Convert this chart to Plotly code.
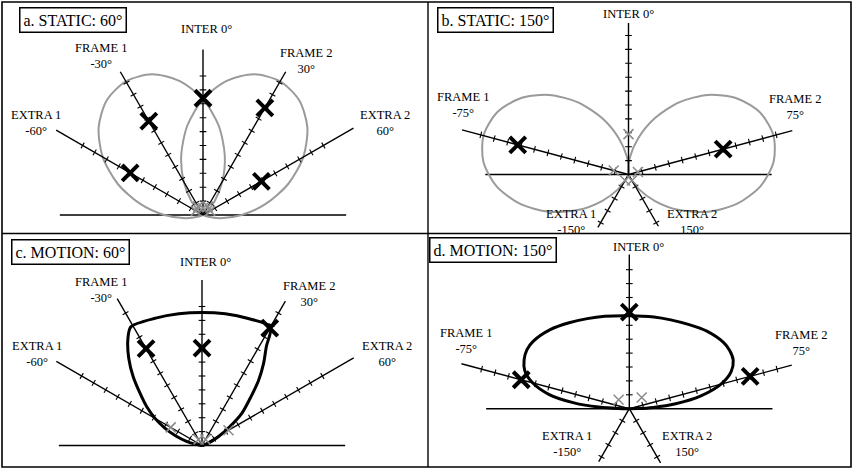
import math
import plotly.graph_objects as go

# ---------------- data ----------------
panel_titles = ["a. STATIC: 60°", "b. STATIC: 150°", "c. MOTION: 60°", "d. MOTION: 150°"]
axis_names = ["EXTRA 1", "FRAME 1", "INTER", "FRAME 2", "EXTRA 2"]

angles_60 = [-60, -30, 0, 30, 60]
angles_150 = [-150, -75, 0, 75, 150]
angle_text_60 = ["-60°", "-30°", "0°", "30°", "60°"]
angle_text_150 = ["-150°", "-75°", "0°", "75°", "150°"]

# axis lengths and tick counts (radial units)
axis_len_a = [12.2, 11.9, 11.9, 11.9, 12.5]
axis_len_b = [4.4, 12.4, 10.9, 12.2, 4.3]
axis_len_c = [12.1, 12.2, 11.9, 12.0, 12.6]
axis_len_d = [4.4, 12.5, 11.1, 12.1, 4.5]
tick_count_a = [10, 11, 10, 11, 10]
tick_count_b = [4, 11, 10, 11, 4]
tick_count_c = [10, 11, 10, 11, 10]
tick_count_d = [4, 11, 10, 11, 4]
baseline_extent = [-10.3, 10.3]

# black data crosses (radial units along each axis), None = no cross
cross_a = [6.05, 7.8, 8.4, 8.9, 4.85]
cross_b = [None, 8.25, None, 7.05, None]
cross_c = [None, 8.05, 7.0, 9.75, None]
cross_d = [None, 8.05, 6.95, 9.0, None]

# small grey crosses (angle, radius)
grey_a_ang = [-60, -30, 0, 30, 60]
grey_a_r = [0.6, 0.7, 0.5, 0.7, 0.6]
grey_b_ang = [-150, -75, 0, 75, 150]
grey_b_r = [0.5, 1.1, 2.9, 0.7, 0.5]
grey_c_ang = [-60, -30, 30, 60]
grey_c_r = [2.6, 0.5, 0.5, 2.2]
grey_d_ang = [-50, 48]
grey_d_r = [1.0, 1.2]

# static response lobes (grey)
lobe_a1_ang = [-120, -110, -100, -90, -80, -70, -60, -50, -40, -30, -20, -10, 0, 10, 20, 30, 40, 50, 60]
lobe_a2_ang = [-60, -50, -40, -30, -20, -10, 0, 10, 20, 30, 40, 50, 60, 70, 80, 90, 100, 110, 120]
lobe_a_r = [0, 0.33, 1.3, 2.78, 4.58, 6.52, 8.33, 9.8, 10.77, 11.1, 10.77, 9.8, 8.33, 6.52, 4.58, 2.78, 1.3, 0.33, 0]
lobe_b1_ang = [-165, -155, -145, -135, -125, -115, -105, -95, -85, -75, -65, -55, -45, -35, -25, -15, -5, 5, 15]
lobe_b2_ang = [-15, -5, 5, 15, 25, 35, 45, 55, 65, 75, 85, 95, 105, 115, 125, 135, 145, 155, 165]
lobe_b_r = [0, 0.32, 1.26, 2.7, 4.46, 6.34, 8.1, 9.54, 10.48, 10.8, 10.48, 9.54, 8.1, 6.34, 4.46, 2.7, 1.26, 0.32, 0]

# motion response curves (black)
motion_c_ang = [-90, -85, -80, -75, -70, -65, -60, -55, -50, -45, -40, -35, -31, -20, -10, 0,
                10, 20, 30, 33, 37, 41, 45, 51, 56, 62, 70, 80, 90]
motion_c_r = [0, 0.15, 0.45, 1.15, 2.0, 2.95, 3.9, 4.85, 5.8, 7.0, 8.2, 9.3, 9.95, 9.75, 9.62, 9.57,
              9.62, 9.72, 9.85, 8.5, 7.35, 6.2, 5.0, 3.7, 2.4, 1.3, 0.5, 0.1, 0]
motion_d_ang = [-90, -89, -87, -84, -80, -75, -70, -65, -60, -55, -45, -35, -25, -15, 0,
                15, 25, 35, 45, 55, 60, 65, 70, 75, 80, 84, 87, 89, 90]
motion_d_r = [0, 0.8, 2.2, 4.0, 5.85, 7.2, 8.0, 8.35, 8.5, 8.45, 8.05, 7.55, 7.15, 6.88, 6.69,
              6.83, 7.05, 7.4, 7.89, 8.29, 8.35, 8.25, 7.8, 6.83, 5.19, 3.35, 1.73, 0.58, 0]

# ---------------- layout geometry (pixels) ----------------
W, H = 853, 470
S = 13.9  # pixels per radial unit
FONT = "Liberation Serif"

panels = [
    dict(box=(2, 428, 2, 233.5), org=(203, 215), ang=angles_60, atext=angle_text_60,
         lens=axis_len_a, ticks=tick_count_a, cross=cross_a,
         grey=(grey_a_ang, grey_a_r),
         curves=[(lobe_a1_ang, lobe_a_r), (lobe_a2_ang, lobe_a_r)], ccol="#9a9a9a", cw=2.0,
         labels=[(36, 122.5), (101, 56), (206.7, 29.3), (306, 61), (385, 122.5)],
         tbox=(72.5, 20.3)),
    dict(box=(428, 851, 2, 233.5), org=(628.5, 174.5), ang=angles_150, atext=angle_text_150,
         lens=axis_len_b, ticks=tick_count_b, cross=cross_b,
         grey=(grey_b_ang, grey_b_r),
         curves=[(lobe_b1_ang, lobe_b_r), (lobe_b2_ang, lobe_b_r)], ccol="#9a9a9a", cw=2.0,
         labels=[(571, 222), (463, 105.5), (628.3, 14), (795, 106.5), (691.7, 222)],
         tbox=(495.8, 20.3)),
    dict(box=(2, 428, 233.5, 467), org=(202, 445.5), ang=angles_60, atext=angle_text_60,
         lens=axis_len_c, ticks=tick_count_c, cross=cross_c,
         grey=(grey_c_ang, grey_c_r),
         curves=[(motion_c_ang, motion_c_r)], ccol="black", cw=3.0,
         labels=[(37, 354), (101, 290), (205, 261.7), (309, 294), (386.7, 354)],
         tbox=(70.5, 252)),
    dict(box=(428, 851, 233.5, 467), org=(629.3, 408.7), ang=angles_150, atext=angle_text_150,
         lens=axis_len_d, ticks=tick_count_d, cross=cross_d,
         grey=(grey_d_ang, grey_d_r),
         curves=[(motion_d_ang, motion_d_r)], ccol="black", cw=3.0,
         labels=[(566.7, 444), (466, 341), (638.3, 246.7), (801, 342.5), (687, 444)],
         tbox=(493.3, 250)),
]


def pol(a_deg, r):
    t = math.radians(a_deg)
    return r * math.sin(t), r * math.cos(t)


fig = go.Figure()
layout = dict(width=W, height=H, margin=dict(l=0, r=0, t=0, b=0),
              paper_bgcolor="white", plot_bgcolor="white", showlegend=False)
annotations = []
TICK_H = 0.24

for i, p in enumerate(panels):
    n = "" if i == 0 else str(i + 1)
    xa, ya = "x" + n, "y" + n
    x0, x1, y0, y1 = p["box"]
    ox, oy = p["org"]
    layout["xaxis" + n] = dict(domain=[x0 / W, x1 / W], range=[(x0 - ox) / S, (x1 - ox) / S],
                               visible=False, fixedrange=True, anchor=ya)
    layout["yaxis" + n] = dict(domain=[1 - y1 / H, 1 - y0 / H], range=[(oy - y1) / S, (oy - y0) / S],
                               visible=False, fixedrange=True, anchor=xa)

    # baseline
    fig.add_trace(go.Scatter(x=baseline_extent, y=[0, 0], mode="lines",
                             line=dict(color="black", width=1.5), xaxis=xa, yaxis=ya, hoverinfo="skip"))
    # curves
    for ang, rr in p["curves"]:
        cx, cy = [], []
        for a, r in zip(ang, rr):
            px, py = pol(a, r)
            cx.append(px)
            cy.append(py)
        fig.add_trace(go.Scatter(x=cx, y=cy, mode="lines",
                                 line=dict(color=p["ccol"], width=p["cw"], shape="spline", smoothing=0.8),
                                 xaxis=xa, yaxis=ya, hoverinfo="skip"))
    # axes + ticks
    lx, ly, tx, ty = [], [], [], []
    for a, L, nt in zip(p["ang"], p["lens"], p["ticks"]):
        ex, ey = pol(a, L)
        lx += [0, ex, None]
        ly += [0, ey, None]
        t = math.radians(a)
        perp = (math.cos(t), -math.sin(t))
        for k in range(1, nt + 1):
            cx, cy = pol(a, k)
            tx += [cx - TICK_H * perp[0], cx + TICK_H * perp[0], None]
            ty += [cy - TICK_H * perp[1], cy + TICK_H * perp[1], None]
    fig.add_trace(go.Scatter(x=lx, y=ly, mode="lines", line=dict(color="black", width=1.4),
                             xaxis=xa, yaxis=ya, hoverinfo="skip"))
    fig.add_trace(go.Scatter(x=tx, y=ty, mode="lines", line=dict(color="black", width=1.1),
                             xaxis=xa, yaxis=ya, hoverinfo="skip"))
    # grey crosses
    gx, gy = [], []
    for a, r in zip(*p["grey"]):
        px, py = pol(a, r)
        gx.append(px)
        gy.append(py)
    fig.add_trace(go.Scatter(x=gx, y=gy, mode="markers",
                             marker=dict(symbol="x-thin", size=10, line=dict(color="#8c8c8c", width=1.6)),
                             xaxis=xa, yaxis=ya, hoverinfo="skip"))
    # black crosses
    bx, by = [], []
    for a, r in zip(p["ang"], p["cross"]):
        if r is None:
            continue
        px, py = pol(a, r)
        bx.append(px)
        by.append(py)
    fig.add_trace(go.Scatter(x=bx, y=by, mode="markers",
                             marker=dict(symbol="x-thin", size=16, line=dict(color="black", width=4)),
                             xaxis=xa, yaxis=ya, hoverinfo="skip", cliponaxis=False))

    # labels
    for j, name in enumerate(axis_names):
        lx_, ly_ = p["labels"][j]
        if name == "INTER":
            txt = name + " " + p["atext"][j]
        else:
            txt = name + "<br>" + p["atext"][j]
        annotations.append(dict(x=lx_ / W, y=1 - ly_ / H, xref="paper", yref="paper", text=txt,
                                showarrow=False, xanchor="center", yanchor="middle", borderpad=0,
                                font=dict(family=FONT, size=12.5, color="black")))
    # title box
    bxc, byc = p["tbox"]
    annotations.append(dict(x=bxc / W, y=1 - byc / H, xref="paper", yref="paper", text=panel_titles[i],
                            showarrow=False, xanchor="center", yanchor="middle",
                            borderpad=3, bordercolor="black", borderwidth=1.5, bgcolor="white",
                            font=dict(family=FONT, size=16, color="black")))

shapes = [
    dict(type="rect", xref="paper", yref="paper", x0=2 / W, x1=851 / W, y0=1 - 467 / H, y1=1 - 2 / H,
         line=dict(color="black", width=1.6)),
    dict(type="line", xref="paper", yref="paper", x0=428 / W, x1=428 / W, y0=1 - 467 / H, y1=1 - 2 / H,
         line=dict(color="black", width=1.4)),
    dict(type="line", xref="paper", yref="paper", x0=2 / W, x1=851 / W, y0=1 - 233.5 / H, y1=1 - 233.5 / H,
         line=dict(color="black", width=1.4)),
]
layout["annotations"] = annotations
layout["shapes"] = shapes
fig.update_layout(**layout)
fig.write_html("out.html", config={"displayModeBar": False},
               post_script="document.body.style.margin='0px';document.body.style.padding='0px';"
                           "document.body.style.overflow='hidden';")
